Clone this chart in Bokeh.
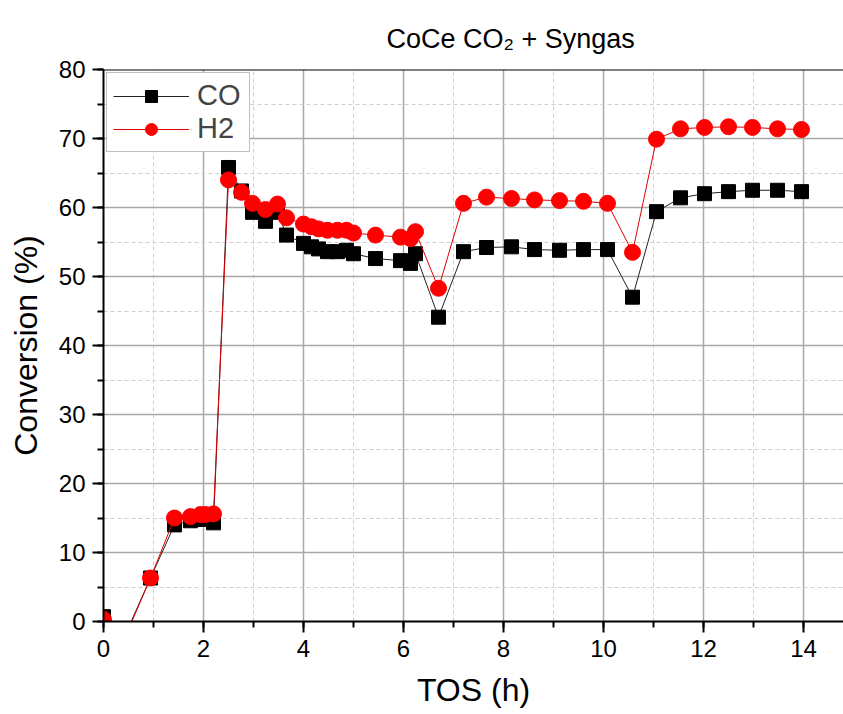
from bokeh.plotting import figure
from bokeh.models import Range1d, SingleIntervalTicker, Span
from bokeh.embed import file_html
from bokeh.resources import INLINE

# TOS (h)
tos = [0.0, 0.48, 0.94, 1.42, 1.74, 1.94, 2.04, 2.2, 2.5, 2.76, 2.98, 3.24, 3.48, 3.66,
       4.0, 4.16, 4.3, 4.48, 4.68, 4.86, 5.0, 5.44, 5.94, 6.14, 6.24, 6.7, 7.2, 7.66,
       8.16, 8.62, 9.12, 9.6, 10.08, 10.58, 11.06, 11.54, 12.02, 12.5, 12.98, 13.48, 13.96]
co = [0.7, -1.2, 6.3, 14.0, 14.6, 14.8, 14.8, 14.3, 65.8, 62.4, 59.3, 58.0, 59.3, 56.0,
      54.8, 54.3, 54.0, 53.6, 53.6, 53.8, 53.3, 52.6, 52.3, 51.9, 53.3, 44.1, 53.6, 54.2,
      54.3, 53.9, 53.8, 53.9, 53.9, 47.0, 59.4, 61.4, 62.0, 62.3, 62.5, 62.5, 62.3]
h2 = [0.3, -1.5, 6.3, 15.0, 15.2, 15.5, 15.5, 15.6, 64.0, 62.2, 60.6, 59.7, 60.5, 58.5,
      57.6, 57.2, 56.9, 56.7, 56.7, 56.7, 56.3, 56.0, 55.7, 55.5, 56.5, 48.3, 60.6, 61.5,
      61.3, 61.1, 61.0, 60.9, 60.6, 53.5, 69.9, 71.4, 71.6, 71.7, 71.6, 71.4, 71.3]
title_text = "CoCe CO\u2082 + Syngas"

FONT = "Liberation Sans"

p = figure(width=843, height=714, output_backend="svg", toolbar_location=None,
           x_range=Range1d(0, 14.8), y_range=Range1d(0, 80),
           min_border_left=103, min_border_right=0, min_border_top=69, min_border_bottom=93)

p.title.text = title_text
p.title.text_font = FONT
p.title.text_font_size = "27px"
p.title.text_font_style = "normal"
p.title.text_color = "black"
p.title.align = "left"
p.title.offset = 283
p.title.vertical_align = "bottom"
p.title.standoff = 32
p.outline_line_color = None

xt = SingleIntervalTicker(interval=2, num_minor_ticks=2)
yt = SingleIntervalTicker(interval=10, num_minor_ticks=2)
p.xaxis.ticker = xt
p.yaxis.ticker = yt
p.xgrid.ticker = xt
p.ygrid.ticker = yt

for ax in (p.xaxis, p.yaxis):
    ax.axis_line_width = 2
    ax.axis_line_color = "black"
    ax.major_tick_out = 11
    ax.major_tick_in = 0
    ax.minor_tick_out = 6
    ax.minor_tick_in = 0
    ax.major_tick_line_width = 2
    ax.minor_tick_line_width = 2
    ax.major_tick_line_color = "black"
    ax.minor_tick_line_color = "black"
    ax.major_label_text_font = FONT
    ax.major_label_text_font_size = "24px"
    ax.major_label_text_color = "black"
    ax.axis_label_text_font = FONT
    ax.axis_label_text_font_size = "32px"
    ax.axis_label_text_font_style = "normal"
    ax.axis_label_text_color = "black"
    ax.major_label_standoff = 7

p.xaxis.axis_label = "TOS (h)"
p.yaxis.axis_label = "Conversion (%)"
p.xaxis.axis_label_standoff = 12
p.yaxis.axis_label_standoff = 12

for g in (p.xgrid, p.ygrid):
    g.grid_line_color = "#a8a8a8"
    g.grid_line_width = 1.5
    g.minor_grid_line_color = "#cfcfcf"
    g.minor_grid_line_dash = "4 3"
    g.minor_grid_line_width = 1

p.add_layout(Span(location=80, dimension="width", line_color="black", line_width=2))

p.line(tos, co, line_color="#222222", line_width=1, legend_label="CO")
p.scatter(tos, co, marker="square", size=14, fill_color="black", line_color="black",
          legend_label="CO")
p.line(tos, h2, line_color="#e00000", line_width=1, legend_label="H2")
p.scatter(tos, h2, marker="circle", size=16, fill_color="#ff0000", line_color="#ff0000",
          legend_label="H2")

lg = p.legend[0]
lg.location = "top_left"
lg.margin = 3
lg.padding = 6
lg.spacing = 0
lg.glyph_width = 76
lg.glyph_height = 30
lg.label_standoff = 8
lg.label_width = 46
lg.label_text_font = FONT
lg.label_text_font_size = "29px"
lg.border_line_color = "#808080"
lg.border_line_width = 1
lg.background_fill_alpha = 1

open("out.html", "w").write(file_html(p, INLINE))
